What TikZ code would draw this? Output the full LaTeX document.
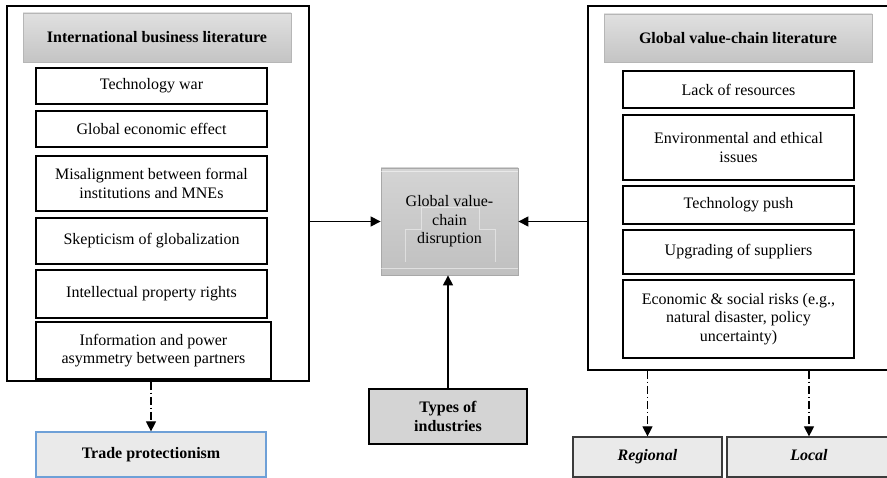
\documentclass[tikz,border=0pt]{standalone}
\usepackage{fontspec}
\setmainfont{Liberation Serif}
\usetikzlibrary{arrows.meta}
\definecolor{hdrtop}{RGB}{224,224,224}
\definecolor{hdrbot}{RGB}{196,196,196}
\definecolor{hdrline}{RGB}{182,182,182}
\definecolor{ctrtop}{RGB}{212,212,212}
\definecolor{ctrbot}{RGB}{192,192,192}
\definecolor{ctrline}{RGB}{168,168,168}
\definecolor{typefill}{RGB}{212,212,212}
\definecolor{texfill}{RGB}{234,234,234}
\definecolor{blueline}{RGB}{110,160,215}
\definecolor{outline}{RGB}{60,60,60}
\tikzset{
  every node/.style={font=\fontsize{16}{18.4}\selectfont, inner sep=0pt, align=center},
  outerbox/.style={draw=black, line width=1.2pt, rectangle},
  hdrbox/.style={draw=hdrline, line width=0.8pt, top color=hdrtop, bottom color=hdrbot, font=\fontsize{16}{18.4}\selectfont\bfseries},
  itembox/.style={draw=black, line width=1.3pt, fill=white},
  ctrbox/.style={draw=ctrline, line width=0.8pt, top color=ctrtop, bottom color=ctrbot},
  typebox/.style={draw=black, line width=1.2pt, fill=typefill, font=\fontsize{16}{18.4}\selectfont\bfseries},
  texbox/.style={fill=texfill, line width=1.2pt, text height=11pt, text depth=4pt},
  solidarrow/.style={line width=1.2pt, -{Triangle[length=10pt,width=10pt]}},
  dotarrow/.style={line width=1.1pt, dash pattern=on 8pt off 3pt on 1.2pt off 3pt, -{Triangle[length=10pt,width=10pt]}}
}
\begin{document}
\begin{tikzpicture}[x=1pt,y=-1pt]
\useasboundingbox (0,0) rectangle (887,478);
\fill[white] (0,0) rectangle (887,478);

% left column
\node[outerbox, minimum width=302, minimum height=375] (lbox) at (158,193.5) {};
\node[hdrbox, minimum width=268, minimum height=49] (lhdr) at (157,37.5) {International business literature};
\node[itembox, minimum width=231, minimum height=36] (l1) at (151.5,86) {Technology war};
\node[itembox, minimum width=231, minimum height=36] (l2) at (151.5,129) {Global economic effect};
\node[itembox, minimum width=231, minimum height=55] (l3) at (151.5,183.5) {Misalignment between formal\\institutions and MNEs};
\node[itembox, minimum width=231, minimum height=46] (l4) at (151.5,241) {Skepticism of globalization};
\node[itembox, minimum width=231, minimum height=48] (l5) at (151.5,294) {Intellectual property rights};
\node[itembox, minimum width=235, minimum height=57] (l6) at (153.5,350.5) {Information and power\\asymmetry between partners};
\node[texbox, draw=blueline, minimum width=230, minimum height=45, font=\fontsize{16}{18.4}\selectfont\bfseries] (trade) at (151,454.5) {Trade protectionism};

% center
\node[ctrbox, minimum width=137, minimum height=107] (ctr) at (449.5,221.5) {Global value-\\chain\\disruption};
\draw[white, opacity=0.5, line width=0.6pt] ([yshift=-4pt]ctr.north west) -- ([yshift=-4pt]ctr.north east);
\draw[white, opacity=0.5, line width=0.6pt] ([yshift=7pt]ctr.south west) -- ([yshift=7pt]ctr.south east);
\draw[white, opacity=0.45, line width=0.5pt] (405,262) -- (405,229) -- (421,229) -- (421,207) -- (479,207) -- (479,229) -- (495,229) -- (495,262);
\node[typebox, minimum width=158, minimum height=55] (types) at (448,416.5) {Types of\\industries};

% right column
\node[outerbox, minimum width=307, minimum height=364] (rbox) at (741.5,188) {};
\node[hdrbox, minimum width=268, minimum height=48] (rhdr) at (738,38) {Global value-chain literature};
\node[itembox, minimum width=231, minimum height=37] (r1) at (738.5,89.5) {Lack of resources};
\node[itembox, minimum width=231, minimum height=65] (r2) at (738.5,147.5) {Environmental and ethical\\issues};
\node[itembox, minimum width=231, minimum height=38] (r3) at (738.5,205) {Technology push};
\node[itembox, minimum width=231, minimum height=44] (r4) at (738.5,252) {Upgrading of suppliers};
\node[itembox, minimum width=231, minimum height=78] (r5) at (738.5,319) {Economic \& social risks (e.g.,\\natural disaster, policy\\uncertainty)};
\node[texbox, draw=outline, minimum width=149, minimum height=40, font=\fontsize{16}{18.4}\selectfont\bfseries\itshape] (reg) at (647.5,457) {Regional};
\node[texbox, draw=outline, minimum width=164, minimum height=40, font=\fontsize{16}{18.4}\selectfont\bfseries\itshape] (loc) at (809,457) {Local};

% connectors
\draw[solidarrow] (lbox.east |- ctr.west) -- (ctr.west);
\draw[solidarrow] (rbox.west |- ctr.east) -- (ctr.east);
\draw[solidarrow] (types.north) -- (types.north |- ctr.south);
\draw[dotarrow] (lbox.south -| trade.north) -- (trade.north);
\draw[dotarrow] (rbox.south -| reg.north) -- (reg.north);
\draw[dotarrow] (rbox.south -| loc.north) -- (loc.north);
\end{tikzpicture}
\end{document}
